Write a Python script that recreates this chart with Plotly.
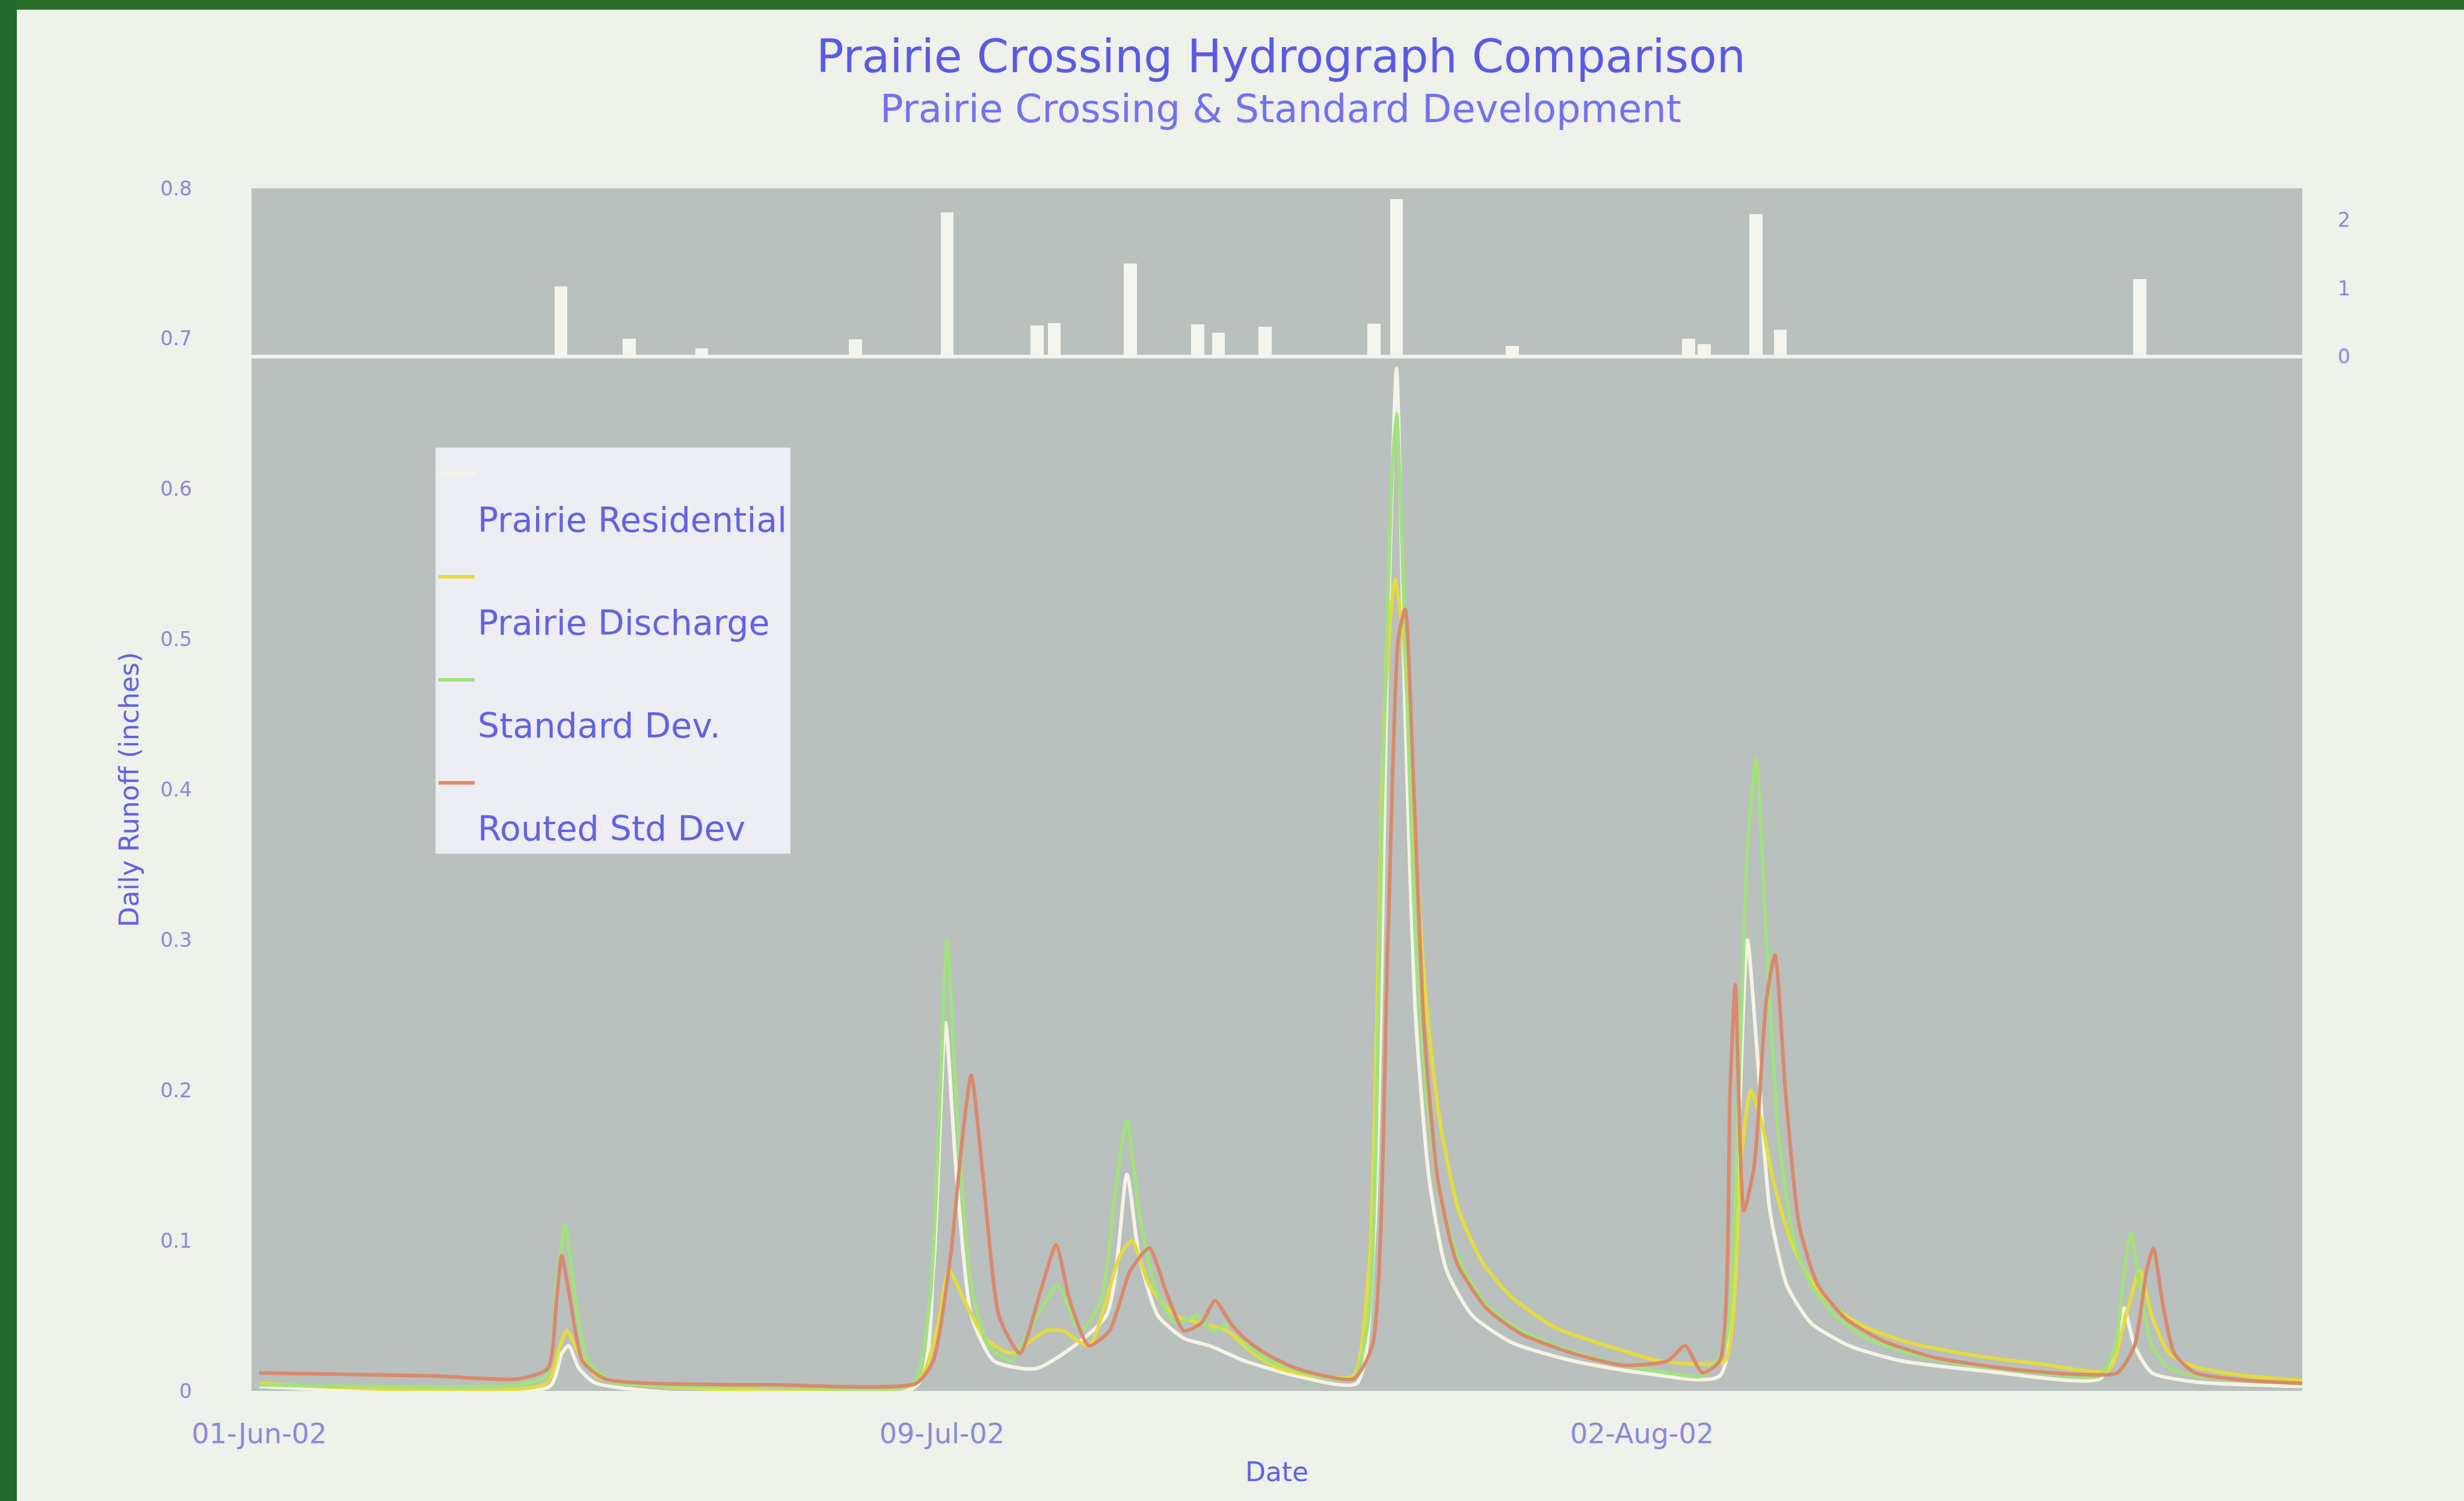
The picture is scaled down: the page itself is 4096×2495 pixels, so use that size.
import plotly.graph_objects as go

# ---------------- data ----------------
x_tick_days = [0, 39.5, 80]
x_tick_labels = ["01-Jun-02", "09-Jul-02", "02-Aug-02"]

rain_days = [17.45, 21.4, 25.6, 34.5, 39.8, 45.0, 46.0, 50.4, 54.3, 55.5, 58.2,
             64.5, 65.8, 72.5, 82.7, 83.6, 86.6, 88.0, 108.8]
rain_in = [1.03, 0.26, 0.12, 0.25, 2.11, 0.46, 0.49, 1.36, 0.47, 0.35, 0.44,
           0.48, 2.30, 0.16, 0.26, 0.18, 2.08, 0.39, 1.13]

res_days = [0, 16.8, 17.5, 17.9, 18.5, 19.5, 38, 39, 39.7, 40.3, 41.2, 42.5, 45, 49,
            50.2, 50.9, 52, 53.5, 55, 57, 60, 63.5, 64.5, 65.3, 65.8, 66.3, 66.9, 67.7,
            68.7, 70.2, 72.5, 76, 80, 84.5, 85.5, 86.1, 86.7, 87.4, 88.4, 89.8, 92, 95,
            100, 106.5, 107.4, 107.9, 108.5, 109.5, 112, 118.2]
res_runoff = [0.003, 0.003, 0.025, 0.03, 0.015, 0.005, 0.003, 0.08, 0.245, 0.15, 0.05,
              0.02, 0.015, 0.05, 0.144, 0.09, 0.05, 0.035, 0.03, 0.02, 0.01, 0.005, 0.1,
              0.5, 0.68, 0.45, 0.25, 0.14, 0.08, 0.05, 0.032, 0.02, 0.012, 0.01, 0.15,
              0.3, 0.22, 0.12, 0.07, 0.045, 0.03, 0.02, 0.013, 0.008, 0.03, 0.055, 0.03,
              0.012, 0.006, 0.003]

dis_days = [0, 16.6, 17.4, 17.8, 18.5, 19.5, 21, 38, 39.2, 39.9, 40.8, 42, 43.5, 45.5,
            46.5, 48, 49.8, 50.5, 51.5, 53, 54.5, 56, 57.5, 59, 61, 63.3, 64.2, 65.1,
            65.7, 66.2, 66.8, 67.5, 68.3, 69.4, 70.8, 72.5, 75, 78, 81, 83, 84.8, 85.7,
            86.3, 86.9, 87.6, 88.6, 89.7, 91.2, 93, 95.5, 99, 103, 107, 108, 108.8,
            109.5, 110.5, 112, 115, 118.2]
dis_runoff = [0.005, 0.005, 0.03, 0.04, 0.025, 0.01, 0.005, 0.005, 0.04, 0.08, 0.06,
              0.035, 0.025, 0.04, 0.04, 0.03, 0.09, 0.1, 0.07, 0.05, 0.045, 0.04, 0.025,
              0.015, 0.01, 0.01, 0.08, 0.45, 0.54, 0.5, 0.38, 0.26, 0.18, 0.12, 0.085,
              0.062, 0.042, 0.03, 0.02, 0.018, 0.02, 0.15, 0.2, 0.18, 0.14, 0.1, 0.075,
              0.055, 0.042, 0.032, 0.024, 0.018, 0.014, 0.05, 0.08, 0.05, 0.025, 0.016,
              0.01, 0.007]

std_days = [0, 15, 16.6, 17.3, 17.7, 18.3, 19, 20.5, 30, 37.8, 38.8, 39.4, 39.8, 40.4,
            41.2, 42.2, 43.5, 45, 46.2, 47.5, 48.7, 49.6, 50.2, 50.9, 51.8, 53, 54.3,
            55.2, 56.2, 57.2, 58.5, 60.5, 63.3, 64.2, 65.0, 65.5, 65.8, 66.3, 66.9, 67.6,
            68.5, 69.7, 71.2, 73, 75.5, 78.5, 81.5, 83.5, 84.8, 85.6, 86.1, 86.6, 87.2,
            87.9, 88.8, 89.8, 91.2, 93, 95.5, 99, 103, 106.5, 107.4, 107.9, 108.3, 108.8,
            109.5, 110.5, 112, 115, 118.2]
std_runoff = [0.004, 0.004, 0.01, 0.08, 0.11, 0.06, 0.02, 0.006, 0.003, 0.005, 0.06,
              0.2, 0.30, 0.18, 0.07, 0.03, 0.02, 0.05, 0.07, 0.04, 0.06, 0.14, 0.18,
              0.12, 0.07, 0.045, 0.05, 0.04, 0.045, 0.03, 0.02, 0.012, 0.008, 0.05, 0.4,
              0.6, 0.65, 0.5, 0.3, 0.19, 0.12, 0.08, 0.055, 0.04, 0.028, 0.018, 0.012,
              0.01, 0.03, 0.2, 0.36, 0.42, 0.3, 0.17, 0.1, 0.07, 0.05, 0.035, 0.025,
              0.017, 0.012, 0.01, 0.03, 0.08, 0.105, 0.07, 0.03, 0.015, 0.01, 0.007,
              0.005]

rtd_days = [0, 10, 15, 16.7, 17.2, 17.5, 18, 18.7, 20, 30, 38, 39, 40, 40.7, 41.2, 41.9,
            42.8, 44, 45.3, 46.1, 46.9, 48, 49.2, 50.4, 51.5, 52.5, 53.5, 54.5, 55.3,
            56.2, 57, 58.2, 60, 63.3, 64.4, 65.3, 65.9, 66.3, 66.8, 67.4, 68.2, 69.3,
            71, 73, 76, 79, 81.5, 82.5, 83.5, 84.5, 85.1, 85.4, 85.9, 86.5, 87.2, 87.7,
            88.3, 89.1, 90.2, 91.8, 94, 97, 101, 105, 107.5, 108.5, 109.2, 109.6, 110.1,
            110.8, 112, 115, 118.2]
rtd_runoff = [0.012, 0.01, 0.008, 0.015, 0.06, 0.09, 0.06, 0.02, 0.008, 0.004, 0.005,
              0.02, 0.09, 0.17, 0.21, 0.14, 0.05, 0.025, 0.07, 0.097, 0.06, 0.03, 0.04,
              0.08, 0.095, 0.065, 0.04, 0.045, 0.06, 0.045, 0.035, 0.025, 0.015, 0.008,
              0.03, 0.3, 0.5, 0.52, 0.4, 0.24, 0.14, 0.085, 0.055, 0.038, 0.025, 0.017,
              0.02, 0.03, 0.012, 0.02, 0.2, 0.27, 0.12, 0.15, 0.26, 0.29, 0.2, 0.11,
              0.07, 0.048, 0.033, 0.022, 0.015, 0.011, 0.012, 0.03, 0.08, 0.095, 0.06,
              0.025, 0.012, 0.007, 0.005]

# ---------------- styling ----------------
W, H = 4096, 2495
ML, MR, MT, MB = 418, 269, 313, 183
plot_w = W - ML - MR
plot_h = H - MT - MB
FONT = "DejaVu Sans"
TICK_COL = "#8a8ad4"
TEXT_COL = "#6262e2"


def paper_y(win_y):
    """window pixel row -> paper y coordinate"""
    return (H - MB - win_y) / plot_h


def paper_x(win_x):
    return (win_x - ML) / plot_w


rain_base_frac = 0.860      # where rainfall 0 sits in the plot height
rain_top = 2.46
rain_bottom = -rain_base_frac / (1 - rain_base_frac) * rain_top

fig = go.Figure()

series = [
    ("Prairie Residential", res_days, res_runoff, "#f6f4e6"),
    ("Prairie Discharge", dis_days, dis_runoff, "#e4dc3e"),
    ("Standard Dev.", std_days, std_runoff, "#a2e27e"),
    ("Routed Std Dev", rtd_days, rtd_runoff, "#d98a6c"),
]
for i, (name, xs, ys, col) in enumerate(series):
    fig.add_trace(go.Scatter(
        x=xs, y=ys, mode="lines", name="<br>" + name,
        line=dict(color=col, width=6, shape="spline", smoothing=0.6),
        legendgroup=f"g{i}",
    ))

fig.add_trace(go.Bar(
    x=rain_days, y=rain_in, yaxis="y2", width=0.75,
    marker=dict(color="#f5f5ef", line=dict(width=0)),
    showlegend=False, name="Rainfall",
))

fig.update_layout(
    width=W, height=H,
    margin=dict(l=ML, r=MR, t=MT, b=MB),
    paper_bgcolor="#eff1eb",
    plot_bgcolor="#bac0bd",
    font=dict(family=FONT, color=TICK_COL),
    bargap=0,
    xaxis=dict(
        range=[-0.45, 118.2], tickvals=x_tick_days, ticktext=x_tick_labels,
        showgrid=False, zeroline=False, showline=False, ticks="",
        tickfont=dict(size=46, color=TICK_COL, family=FONT), ticklabelstandoff=40,
        title=dict(text="Date", font=dict(size=44, color=TEXT_COL, family=FONT), standoff=22),
    ),
    yaxis=dict(
        range=[0, 0.8], dtick=0.1, tickformat=".1~f",
        showgrid=False, zeroline=False, showline=False, ticks="",
        tickfont=dict(size=33, color=TICK_COL, family=FONT), ticklabelstandoff=98,
        title=dict(text="Daily Runoff (inches)", font=dict(size=44, color=TEXT_COL, family=FONT),
                   standoff=22),
    ),
    yaxis2=dict(
        overlaying="y", side="right", range=[rain_bottom, rain_top],
        tickvals=[0, 1, 2], showgrid=False, zeroline=False, showline=False, ticks="",
        tickfont=dict(size=33, color=TICK_COL, family=FONT), ticklabelstandoff=58,
    ),
    legend=dict(
        x=paper_x(724), y=paper_y(744), xanchor="left", yanchor="top",
        bgcolor="rgba(241,241,246,0.93)", borderwidth=0,
        font=dict(size=57, color=TEXT_COL, family=FONT),
        valign="top", tracegroupgap=20, itemwidth=60,
    ),
    showlegend=True,
)

# divider line at rainfall zero
fig.add_shape(type="line", xref="x domain", yref="y2", x0=0, x1=1, y0=0, y1=0,
              line=dict(color="#f2f4f0", width=6), layer="below")

# dark green slide frame (top and left edge)
fig.add_shape(type="rect", xref="paper", yref="paper",
              x0=-0.2, x1=1.2, y0=paper_y(16), y1=1.3,
              fillcolor="#2a6e26", line=dict(width=0), layer="above")
fig.add_shape(type="rect", xref="paper", yref="paper",
              x0=-0.2, x1=paper_x(28), y0=-0.2, y1=1.3,
              fillcolor="#236a2e", line=dict(width=0), layer="above")

# titles
fig.add_annotation(text="Prairie Crossing Hydrograph Comparison", xref="paper", yref="paper",
                   x=paper_x(2129), y=paper_y(94),
                   showarrow=False, font=dict(size=76, color="#5a5ae4", family=FONT),
                   xanchor="center", yanchor="middle")
fig.add_annotation(text="Prairie Crossing & Standard Development", xref="paper", yref="paper",
                   x=paper_x(2129), y=paper_y(181),
                   showarrow=False, font=dict(size=64, color="#7272ee", family=FONT),
                   xanchor="center", yanchor="middle")

fig.write_html("out.html")
